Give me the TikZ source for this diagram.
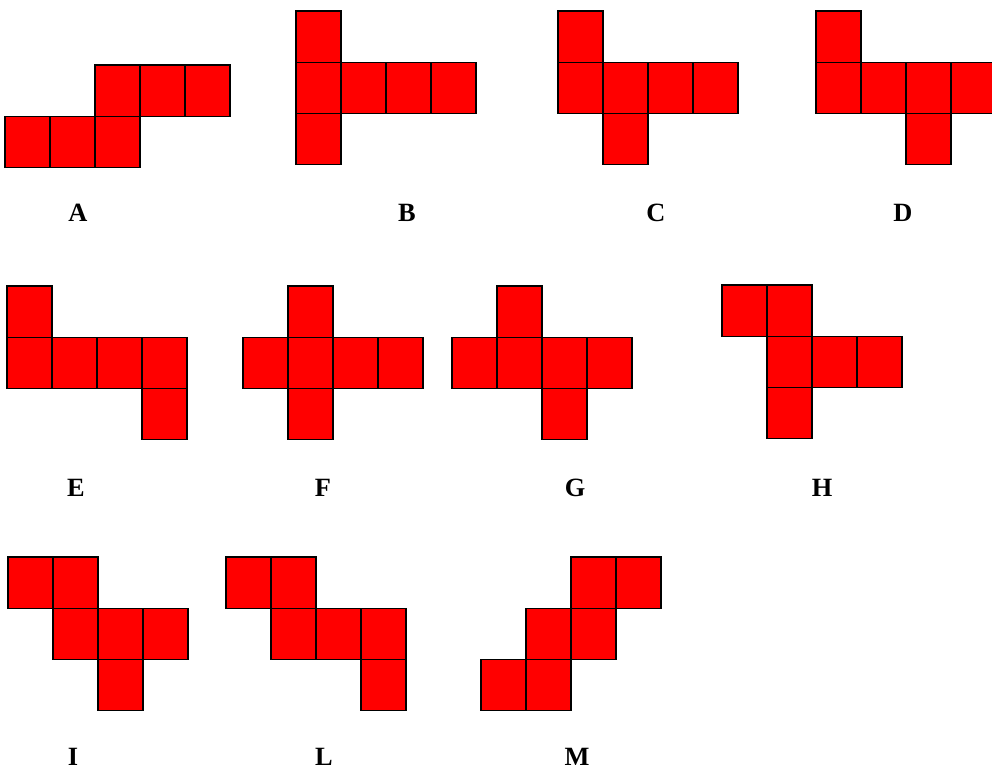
\documentclass[tikz,border=0pt]{standalone}
\usepackage{fontspec}
\setmainfont{Liberation Serif}
\usepackage{tikz}

% one net of six faces: #1,#2 = top left corner, #3 = list of col/row cells
\newcommand{\cubenet}[3]{%
  \begin{scope}[shift={(#1,#2)}]
    \foreach \c/\r in {#3}
      \draw[cell] (45*\c,51.3*\r) rectangle ++(45,51.3);
  \end{scope}}

\begin{document}
\begin{tikzpicture}[
    x=0.02cm, y=-0.02cm,
    cell/.style={draw=black, fill=red, line width=0.6pt},
    tag/.style={font=\bfseries\fontsize{15}{18}\selectfont, inner sep=0pt}
]
    \useasboundingbox (0,0) rectangle (992,769);
    \clip (0,0) rectangle (992,769);

    % Row 1
    \cubenet{5}{65}{2/0, 3/0, 4/0, 0/1, 1/1, 2/1}
    \cubenet{296}{11}{0/0, 0/1, 1/1, 2/1, 3/1, 0/2}
    \cubenet{558}{11}{0/0, 0/1, 1/1, 2/1, 3/1, 1/2}
    \cubenet{816}{11}{0/0, 0/1, 1/1, 2/1, 3/1, 2/2}
    \node[tag] (labA) at (78,213) {A};
    \node[tag] (labB) at (407,213) {B};
    \node[tag] (labC) at (656,213) {C};
    \node[tag] (labD) at (903,213) {D};

    % Row 2
    \cubenet{7}{286}{0/0, 0/1, 1/1, 2/1, 3/1, 3/2}
    \cubenet{243}{286}{1/0, 0/1, 1/1, 2/1, 3/1, 1/2}
    \cubenet{452}{286}{1/0, 0/1, 1/1, 2/1, 3/1, 2/2}
    \cubenet{722}{285}{0/0, 1/0, 1/1, 2/1, 3/1, 1/2}
    \node[tag] (labE) at (76,488) {E};
    \node[tag] (labF) at (323,488) {F};
    \node[tag] (labG) at (575,488) {G};
    \node[tag] (labH) at (822,488) {H};

    % Row 3
    \cubenet{8}{557}{0/0, 1/0, 1/1, 2/1, 3/1, 2/2}
    \cubenet{226}{557}{0/0, 1/0, 1/1, 2/1, 3/1, 3/2}
    \cubenet{481}{557}{2/0, 3/0, 1/1, 2/1, 0/2, 1/2}
    \node[tag] (labI) at (73,757) {I};
    \node[tag] (labL) at (324,757) {L};
    \node[tag] (labM) at (577,757) {M};
\end{tikzpicture}
\end{document}
